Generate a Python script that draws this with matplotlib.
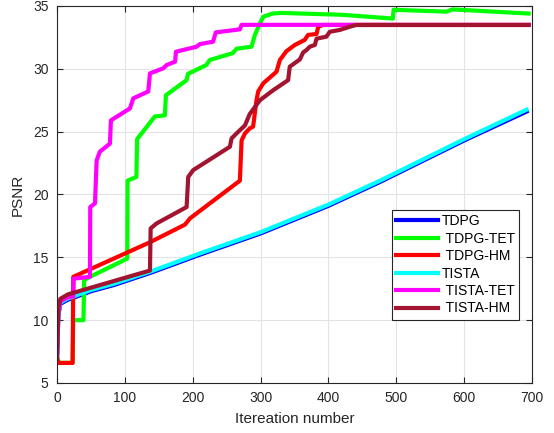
import matplotlib
matplotlib.use("Agg")
import matplotlib.pyplot as plt

plt.rcParams['font.family'] = ['Liberation Sans', 'DejaVu Sans']

# TISTA (smooth, slightly convex) and TDPG just beneath it
tista_x = [0, 2, 5, 15, 50, 84, 137, 210, 300, 400, 476, 600, 692]
tista_y = [7.0, 10.5, 11.4, 11.7, 12.4, 12.9, 13.85, 15.3, 17.0, 19.2, 21.1, 24.4, 26.75]
tdpg_x = [0, 2, 5, 15, 50, 84, 137, 210, 300, 400, 476, 600, 692]
tdpg_y = [6.9, 10.4, 11.3, 11.6, 12.3, 12.8, 13.75, 15.2, 16.9, 19.1, 21.0, 24.3, 26.6]

# TDPG-TET
tdpg_tet_x = [0, 3, 23, 24, 39, 40, 48.6, 103.5, 104, 117, 118, 144, 159, 160.5, 191, 193, 220, 225,
              259, 264.6, 286.7, 291.6, 299, 304, 318, 330, 420, 495, 496, 574, 583, 695]
tdpg_tet_y = [7.0, 6.6, 6.6, 10.0, 10.0, 13.2, 13.45, 14.9, 21.1, 21.4, 24.4, 26.2, 26.3, 27.9, 29.1, 29.6, 30.3, 30.7,
              31.25, 31.6, 31.76, 32.7, 33.6, 34.15, 34.4, 34.45, 34.3, 34.0, 34.7, 34.55, 34.73, 34.4]

# TDPG-HM
tdpg_hm_x = [0, 2, 23, 24, 137, 188.5, 196, 269.5, 272, 277, 284, 289, 294, 296.5, 304, 323.5, 328.4,
             338, 350.5, 365, 370, 382.5, 385, 392, 695]
tdpg_hm_y = [7.0, 6.6, 6.6, 13.45, 16.2, 17.6, 18.1, 21.1, 24.3, 24.86, 25.26, 25.4, 27.5, 28.2, 28.85, 29.77, 30.7,
             31.4, 31.9, 32.3, 32.7, 32.77, 33.35, 33.49, 33.49]

# TISTA-TET
tista_tet_x = [0, 2, 5, 15, 24, 24.5, 48.6, 49, 56, 58.4, 63, 78, 79.5, 107.5, 112.4, 134.5, 137, 156.6,
               161.5, 174, 175.3, 205.7, 210.6, 230, 234, 269.5, 272, 695]
tista_tet_y = [7.0, 10.6, 11.5, 11.8, 11.9, 13.3, 13.45, 19.0, 19.3, 22.7, 23.4, 24.05, 25.9, 26.85, 27.65, 28.2,
               29.64, 30.04, 30.3, 30.57, 31.36, 31.76, 31.97, 32.16, 32.9, 33.14, 33.5, 33.5]

# TISTA-HM
tista_hm_x = [0, 2, 5, 16, 137, 138, 146.8, 191, 193.4, 200.7, 254.8, 257.3, 264.6, 277, 284, 299,
              318.6, 340.6, 343, 357.9, 362.7, 367.7, 372.6, 380, 382.5, 397, 402, 417, 431.5, 441, 695]
tista_hm_y = [7.0, 11.0, 11.7, 12.05, 13.95, 17.3, 17.7, 19.0, 21.4, 21.94, 23.8, 24.47, 24.86, 25.5, 26.4, 27.5,
              28.3, 29.1, 30.17, 30.75, 31.3, 31.5, 31.76, 31.9, 32.4, 32.56, 32.95, 33.1, 33.35, 33.49, 33.49]

fig = plt.figure(figsize=(5.54, 4.33), dpi=100)
ax = fig.add_axes([57 / 554, 1 - 383 / 433, 475 / 554, 377 / 433])

lw = 3
ax.plot(tdpg_x, tdpg_y, color=(0, 0, 1), lw=lw, label='TDPG')
ax.plot(tdpg_tet_x, tdpg_tet_y, color=(0, 1, 0), lw=lw, label=' TDPG-TET')
ax.plot(tdpg_hm_x, tdpg_hm_y, color=(1, 0, 0), lw=lw, label=' TDPG-HM')
ax.plot(tista_x, tista_y, color=(0, 1, 1), lw=lw, label='TISTA')
ax.plot(tista_tet_x, tista_tet_y, color=(1, 0, 1), lw=lw, label=' TISTA-TET')
ax.plot(tista_hm_x, tista_hm_y, color=(0.635, 0.078, 0.184), lw=lw, label=' TISTA-HM')

ax.set_xlim(0, 700)
ax.set_ylim(5, 35)
ax.set_xticks(range(0, 701, 100))
ax.set_yticks(range(5, 36, 5))
ax.grid(True, color='#e3e3e3', lw=0.8)
ax.set_axisbelow(True)
ax.tick_params(direction='in', top=True, right=True, labelsize=10, colors='#262626', length=4, pad=6)
for s in ax.spines.values():
    s.set_color('#262626')
    s.set_linewidth(0.8)
ax.set_xlabel('Itereation number', fontsize=11, color='#262626', labelpad=5)
ax.set_ylabel('PSNR', fontsize=11, color='#262626', labelpad=6)

leg = ax.legend(loc='upper left', bbox_to_anchor=(0.7046, 0.459), fontsize=10, frameon=True, fancybox=False,
                edgecolor='#262626', framealpha=1, handlelength=3.0, handletextpad=0.3, labelspacing=0.25,
                borderpad=0.3, borderaxespad=0)
leg.get_frame().set_linewidth(0.8)

fig.savefig('out.png', dpi=100)
